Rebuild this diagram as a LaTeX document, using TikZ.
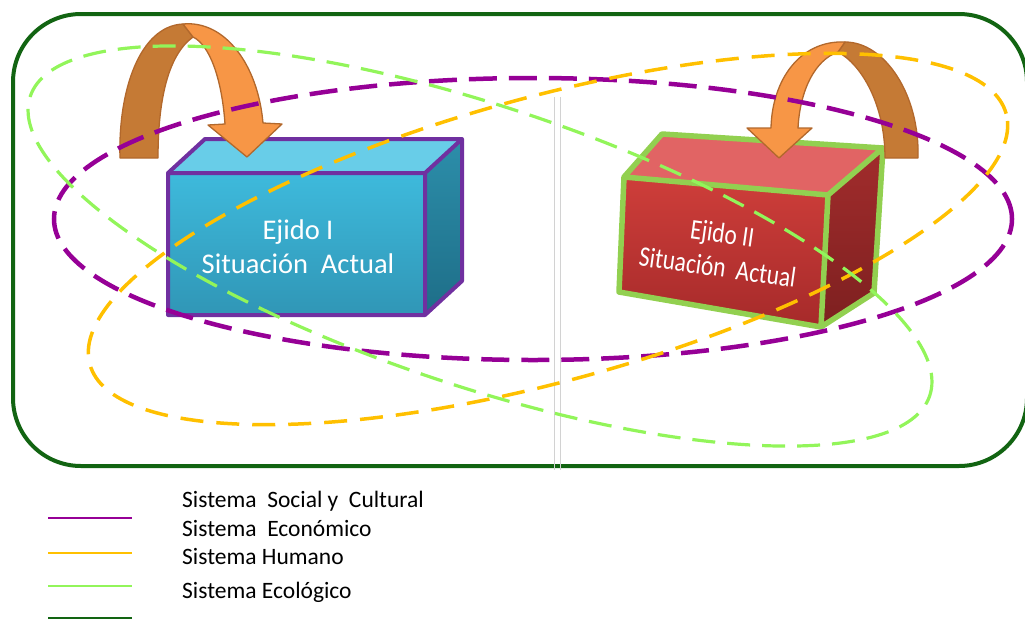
\documentclass[tikz,border=0pt]{standalone}
\usepackage{fontspec}
\setmainfont{Carlito}
\definecolor{dkgreen}{RGB}{18,100,18}
\definecolor{ppl}{RGB}{150,0,150}
\definecolor{org}{RGB}{255,192,0}
\definecolor{lgreen}{RGB}{146,245,90}
\definecolor{boxpurple}{RGB}{112,48,160}
\definecolor{boxgreen}{RGB}{146,208,80}
\definecolor{arrdark}{RGB}{197,122,53}
\definecolor{arrlight}{RGB}{247,150,70}
\definecolor{arredge}{RGB}{178,104,44}
\definecolor{bluetop}{RGB}{62,186,220}
\definecolor{bluebot}{RGB}{48,150,182}
\definecolor{bluetopface}{RGB}{104,205,232}
\definecolor{blueside1}{RGB}{44,142,170}
\definecolor{blueside2}{RGB}{30,110,136}
\definecolor{redtop}{RGB}{206,62,58}
\definecolor{redbot}{RGB}{166,42,42}
\definecolor{redtopface}{RGB}{225,100,100}
\definecolor{redside1}{RGB}{162,44,44}
\definecolor{redside2}{RGB}{125,32,32}
\definecolor{sepgray}{RGB}{210,210,210}
\tikzset{
  boxtext/.style={text=white, font=\fontsize{28.5}{34}\selectfont, inner sep=0pt, align=center},
  legtext/.style={text=black, font=\fontsize{23.5}{27}\selectfont, inner sep=0pt, anchor=base west},
  legline/.style={line width=2.6pt},
  arrowband/.style={draw=arredge, line width=1.3pt, line join=round},
  ellppl/.style={ppl, line width=4.5pt, dash pattern=on 28pt off 12pt},
  ellorg/.style={org, line width=3.5pt, dash pattern=on 23pt off 13pt},
  ellgrn/.style={lgreen, line width=3.2pt, dash pattern=on 23pt off 12pt}
}
\begin{document}
\begin{tikzpicture}[x=1pt,y=-1pt]
\useasboundingbox (0,0) rectangle (1025,619);
\clip (0,0) rectangle (1025,619);
% frame
\draw[dkgreen, line width=4pt, rounded corners=68pt] (13,14) rectangle (1027,466);
% separator
\draw[sepgray, line width=0.9pt] (554,97) -- (554,470);
\draw[sepgray, line width=0.9pt] (560,97) -- (560,470);
% left box
\shade[top color=bluetop, bottom color=bluebot] (168,173) -- (425,173) -- (425,315) -- (168,315) -- cycle;
\fill[bluetopface] (168,173) -- (205,139) -- (462,139) -- (425,173) -- cycle;
\shade[top color=blueside1, bottom color=blueside2] (425,173) -- (462,139) -- (462,281) -- (425,315) -- cycle;
\draw[boxpurple, line width=4pt, line join=round] (168,173) -- (205,139) -- (462,139) -- (462,281) -- (425,315) -- (168,315) -- cycle (168,173) -- (425,173) -- (462,139) (425,173) -- (425,315);
\node[boxtext] (e1) at (298,247) {Ejido I\\Situación~~Actual};
% right box
\shade[top color=redtop, bottom color=redbot] (624,177) -- (828,195) -- (821,327) -- (619,292) -- cycle;
\fill[redtopface] (624,177) -- (662,134) -- (883,148) -- (828,195) -- cycle;
\shade[top color=redside1, bottom color=redside2] (828,195) -- (883,148) -- (874,293) -- (821,327) -- cycle;
\draw[boxgreen, line width=5.5pt, line join=round] (624,177) -- (662,134) -- (883,148) -- (874,293) -- (821,327) -- (619,292) -- cycle (624,177) -- (828,195) -- (883,148) (828,195) -- (821,327);
\node[boxtext, rotate=-8, xscale=0.82, transform shape] (e2) at (720,250) {Ejido II\\Situación~~Actual};
% left curved arrow
\filldraw[fill=arrdark, arrowband] (120,158) .. controls (118,90) and (140,26) .. (183,24) -- (193,37) .. controls (168,55) and (158,100) .. (158,158) -- cycle;
\filldraw[fill=arrlight, arrowband] (183,24) .. controls (225,20) and (258,65) .. (263,123) -- (282,124) -- (247,157) -- (208,125) -- (225,124) .. controls (222,80) and (210,45) .. (193,37) -- cycle;
% right curved arrow
\filldraw[fill=arrdark, arrowband] (918,158) .. controls (920,95) and (885,42) .. (845,42) -- (838,52) .. controls (862,65) and (885,105) .. (885,158) -- cycle;
\filldraw[fill=arrlight, arrowband] (845,42) .. controls (800,40) and (772,80) .. (771,128) -- (747,128) -- (779,158) -- (812,128) -- (798,128) .. controls (800,90) and (815,60) .. (838,52) -- cycle;
% ellipses
\draw[ellppl] (533,219) ellipse [x radius=479pt, y radius=141pt];
\draw[ellorg, rotate around={15.3:(548,239)}] (548,239) ellipse [x radius=475pt, y radius=142pt];
\draw[ellgrn, rotate around={-18.4:(480,246)}] (480,246) ellipse [x radius=474pt, y radius=140pt];
% legend
\draw[legline, ppl] (48,518) -- (132,518);
\draw[legline, org] (48,553) -- (132,553);
\draw[legline, lgreen] (48,586) -- (132,586);
\draw[legline, dkgreen] (48,618) -- (132,618);
\node[legtext] (l1) at (182,507) {Sistema~~Social y~~Cultural};
\node[legtext] (l2) at (182,536) {Sistema~~Económico};
\node[legtext] (l3) at (182,564) {Sistema Humano};
\node[legtext] (l4) at (182,598) {Sistema Ecológico};
\end{tikzpicture}
\end{document}
